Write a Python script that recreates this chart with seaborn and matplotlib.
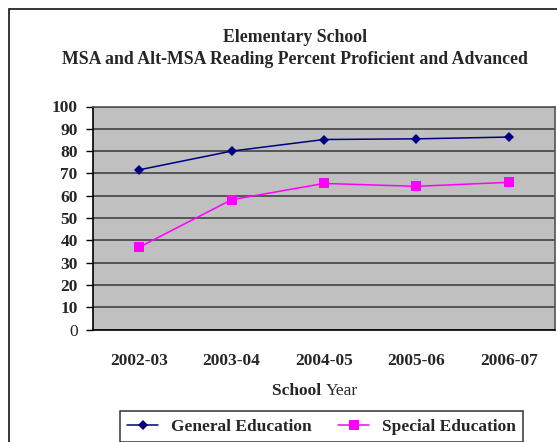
import pandas as pd
import matplotlib.pyplot as plt
import matplotlib.patches as mpatches
from matplotlib.lines import Line2D
import seaborn as sns

# Values
years = ['2002-03', '2003-04', '2004-05', '2005-06', '2006-07']
general_ed = [71.6, 80.0, 85.2, 85.5, 86.3]
special_ed = [36.9, 58.2, 65.5, 64.2, 66.0]
y_ticks = [0, 10, 20, 30, 40, 50, 60, 70, 80, 90, 100]

df = pd.DataFrame({
    'Year': years * 2,
    'Percent': general_ed + special_ed,
    'Group': ['General Education'] * 5 + ['Special Education'] * 5,
})

sns.set_style('white')
plt.rcParams['font.family'] = ['Liberation Serif', 'DejaVu Serif']
FS = 12.5

W, H = 557, 442
fig = plt.figure(figsize=(W / 100, H / 100), dpi=100)
fig.patch.set_facecolor('white')

# outer chart frame (cropped on the right and bottom)
frame = mpatches.Rectangle((9 / W, -0.1), 1.2, 1 - 9 / H + 0.1,
                           transform=fig.transFigure, fill=False,
                           edgecolor='black', linewidth=1.1, clip_on=False)
fig.patches.append(frame)

ax = fig.add_axes([93 / W, 1 - 329.5 / H, (555 - 93) / W, (329.5 - 106.5) / H])
ax.set_facecolor('#c0c0c0')

palette = {'General Education': '#000080', 'Special Education': '#ff00ff'}
markers = {'General Education': 'D', 'Special Education': 's'}
sns.lineplot(data=df, x='Year', y='Percent', hue='Group', style='Group',
             palette=palette, markers=markers, dashes=False, linewidth=1.1,
             markersize=6.5, markeredgewidth=0, ax=ax, legend=False, sort=False)
# slightly smaller diamonds
for line in ax.lines:
    if line.get_marker() == 'D':
        line.set_markersize(5.5)

ax.set_xlim(-0.5, 4.5)
ax.set_ylim(0, 100)
ax.set_yticks(y_ticks)
ax.set_yticklabels([str(v) for v in y_ticks])
for lab in ax.get_yticklabels():
    lab.set_fontweight('normal' if lab.get_text() == '0' else 'bold')
    lab.set_fontsize(FS)

ax.grid(axis='y', color='#555555', linewidth=1.4)
ax.set_axisbelow(True)

ax.set_xticks(range(len(years)))
ax.set_xticklabels(years, fontsize=FS, fontweight='bold')
ax.set_xticks([i - 0.5 for i in range(len(years) + 1)], minor=True)
ax.tick_params(axis='x', which='major', length=0, pad=17)
ax.tick_params(axis='x', which='minor', length=5, width=1, color='black', direction='out')
ax.tick_params(axis='y', which='major', length=5, width=1, color='black',
               direction='out', pad=6, left=True)

for side in ['top', 'right']:
    ax.spines[side].set_color('#555555')
    ax.spines[side].set_linewidth(1.2)
ax.spines['left'].set_color('black')
ax.spines['bottom'].set_color('black')
ax.spines['left'].set_linewidth(1.2)
ax.spines['bottom'].set_linewidth(1.2)

ax.set_xlabel('')
ax.set_ylabel('')

# x-axis title: "School" bold, "Year" regular
fig.text(326 / W, 1 - 391 / H, 'School ', fontsize=FS, fontweight='bold',
         ha='right', va='center')
fig.text(326 / W, 1 - 391 / H, 'Year', fontsize=FS, ha='left', va='center')

fig.text(295 / W, 1 - 37 / H, 'Elementary School', fontsize=12.8,
         fontweight='bold', ha='center', va='center')
fig.text(295 / W, 1 - 59 / H, 'MSA and Alt-MSA Reading Percent Proficient and Advanced',
         fontsize=12.8, fontweight='bold', ha='center', va='center')

handles = [
    Line2D([], [], color='#000080', marker='D', markersize=5.5, markeredgewidth=0, linewidth=1.1),
    Line2D([], [], color='#ff00ff', marker='s', markersize=6.5, markeredgewidth=0, linewidth=1.1),
]
leg = fig.legend(handles, ['General Education', 'Special Education'],
                 loc='center', bbox_to_anchor=(321.5 / W, 1 - 426.5 / H),
                 ncol=2, frameon=True, fancybox=False,
                 handlelength=1.8, handletextpad=0.75, columnspacing=1.5,
                 borderpad=0.42, prop={'weight': 'bold', 'size': FS})
leg.get_frame().set_edgecolor('black')
leg.get_frame().set_linewidth(1.1)

fig.savefig('out.png', dpi=100)
